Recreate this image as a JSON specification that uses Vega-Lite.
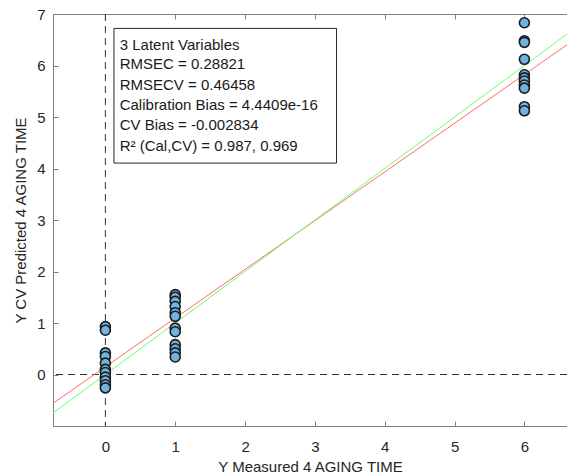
{
  "$schema": "https://vega.github.io/schema/vega-lite/v6.json",
  "width": 514,
  "height": 412,
  "autosize": {"type": "none"},
  "padding": {"left": 53, "top": 14, "right": 0, "bottom": 49},
  "background": "white",
  "config": {
    "view": {"stroke": null},
    "font": "Liberation Sans",
    "axis": {
      "domainColor": "#7f7f7f",
      "tickColor": "#7f7f7f",
      "grid": false,
      "labelFont": "Liberation Sans",
      "labelFontSize": 15,
      "labelColor": "#262626",
      "titleFont": "Liberation Sans",
      "titleFontSize": 15,
      "titleFontWeight": "normal",
      "titleColor": "#262626",
      "tickSize": -5
    }
  },
  "datasets": {
    "samples": [
      {"measured": 0, "predicted": 0.93},
      {"measured": 0, "predicted": 0.86},
      {"measured": 0, "predicted": 0.42},
      {"measured": 0, "predicted": 0.35},
      {"measured": 0, "predicted": 0.22},
      {"measured": 0, "predicted": 0.1},
      {"measured": 0, "predicted": 0.04},
      {"measured": 0, "predicted": -0.05},
      {"measured": 0, "predicted": -0.12},
      {"measured": 0, "predicted": -0.2},
      {"measured": 0, "predicted": -0.26},
      {"measured": 1, "predicted": 1.55},
      {"measured": 1, "predicted": 1.5},
      {"measured": 1, "predicted": 1.42},
      {"measured": 1, "predicted": 1.32},
      {"measured": 1, "predicted": 1.2},
      {"measured": 1, "predicted": 1.13},
      {"measured": 1, "predicted": 0.9},
      {"measured": 1, "predicted": 0.83},
      {"measured": 1, "predicted": 0.58},
      {"measured": 1, "predicted": 0.5},
      {"measured": 1, "predicted": 0.42},
      {"measured": 1, "predicted": 0.34},
      {"measured": 6, "predicted": 6.83},
      {"measured": 6, "predicted": 6.48},
      {"measured": 6, "predicted": 6.45},
      {"measured": 6, "predicted": 6.12},
      {"measured": 6, "predicted": 5.82},
      {"measured": 6, "predicted": 5.76},
      {"measured": 6, "predicted": 5.7},
      {"measured": 6, "predicted": 5.62},
      {"measured": 6, "predicted": 5.56},
      {"measured": 6, "predicted": 5.2},
      {"measured": 6, "predicted": 5.12}
    ],
    "lines": [
      {"series": "fit", "measured": -0.75, "predicted": -0.56},
      {"series": "fit", "measured": 6.61, "predicted": 6.402},
      {"series": "unity", "measured": -0.75, "predicted": -0.75},
      {"series": "unity", "measured": 6.61, "predicted": 6.61}
    ],
    "stats": [
      {"label": "3 Latent Variables", "x": 0.205, "y": 6.4},
      {"label": "RMSEC = 0.28821", "x": 0.205, "y": 6.03},
      {"label": "RMSECV = 0.46458", "x": 0.205, "y": 5.63},
      {"label": "Calibration Bias = 4.4409e-16", "x": 0.205, "y": 5.24},
      {"label": "CV Bias = -0.002834", "x": 0.205, "y": 4.85},
      {"label": "R² (Cal,CV) = 0.987, 0.969", "x": 0.205, "y": 4.43}
    ],
    "box": [
      {"x": 0.123, "x2": 3.31, "y": 6.72, "y2": 4.105}
    ],
    "zero": [{"v": 0}]
  },
  "resolve": {"axis": {"x": "independent"}},
  "layer": [
    {
      "data": {"name": "zero"},
      "mark": {"type": "rule", "color": "#333333", "strokeWidth": 1, "strokeDash": [7, 5]},
      "encoding": {
        "x": {
          "field": "v", "type": "quantitative",
          "scale": {"domain": [-0.75, 6.61], "nice": false, "zero": false},
          "axis": {"orient": "bottom", "values": [0, 1, 2, 3, 4, 5, 6], "title": "Y Measured 4 AGING TIME", "labelPadding": 18, "titlePadding": 5}
        }
      }
    },
    {
      "data": {"name": "zero"},
      "mark": {"type": "rule", "color": "#333333", "strokeWidth": 1, "strokeDash": [7, 5]},
      "encoding": {
        "y": {
          "field": "v", "type": "quantitative",
          "scale": {"domain": [-1, 7], "nice": false, "zero": false},
          "axis": {"values": [0, 1, 2, 3, 4, 5, 6, 7], "title": "Y CV Predicted 4 AGING TIME", "labelPadding": 13, "titlePadding": 8}
        }
      }
    },
    {
      "data": {"name": "lines"},
      "mark": {"type": "line", "strokeWidth": 1, "clip": true},
      "encoding": {
        "x": {"field": "measured", "type": "quantitative", "axis": {"orient": "top", "values": [0, 1, 2, 3, 4, 5, 6], "labels": false, "title": null}},
        "y": {"field": "predicted", "type": "quantitative"},
        "color": {
          "field": "series", "type": "nominal",
          "scale": {"domain": ["fit", "unity"], "range": ["#ff6b6b", "#6bff6b"]},
          "legend": null
        }
      }
    },
    {
      "data": {"name": "samples"},
      "mark": {"type": "point", "shape": "circle", "filled": true, "fill": "#72b2de", "stroke": "#1a1a1a", "strokeWidth": 1.6, "size": 100, "opacity": 1},
      "encoding": {
        "x": {"field": "measured", "type": "quantitative", "axis": null},
        "y": {"field": "predicted", "type": "quantitative"}
      }
    },
    {
      "data": {"name": "box"},
      "mark": {"type": "rect", "fill": "white", "stroke": "#262626", "strokeWidth": 1},
      "encoding": {
        "x": {"field": "x", "type": "quantitative", "axis": null},
        "x2": {"field": "x2"},
        "y": {"field": "y", "type": "quantitative"},
        "y2": {"field": "y2"}
      }
    },
    {
      "data": {"name": "stats"},
      "mark": {"type": "text", "align": "left", "baseline": "middle", "fontSize": 15, "font": "Liberation Sans", "color": "#1a1a1a"},
      "encoding": {
        "x": {"field": "x", "type": "quantitative", "axis": null},
        "y": {"field": "y", "type": "quantitative"},
        "text": {"field": "label"}
      }
    }
  ]
}
